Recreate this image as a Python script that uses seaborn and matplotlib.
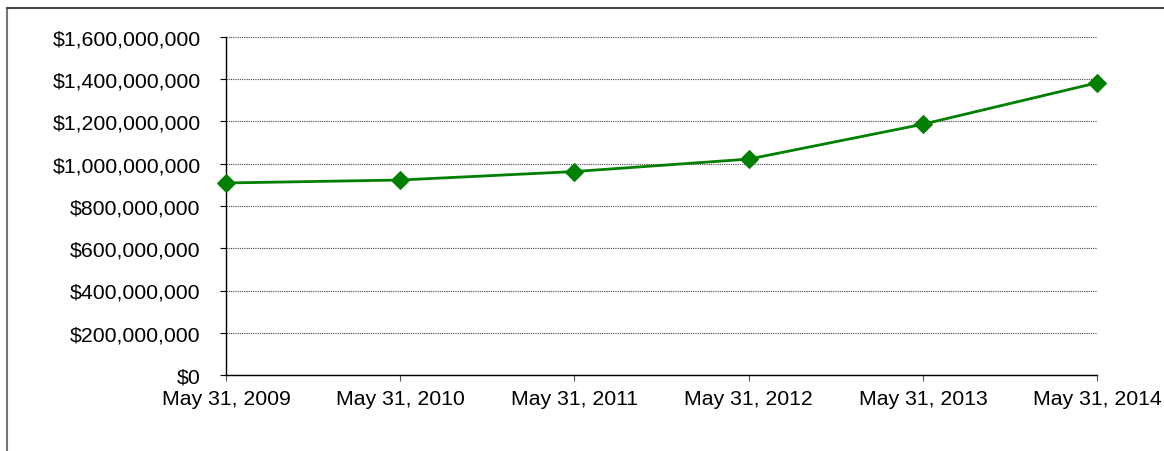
import pandas as pd
import matplotlib
matplotlib.use('Agg')
import matplotlib.pyplot as plt
import matplotlib.dates as mdates
from matplotlib.ticker import FuncFormatter, MultipleLocator
from matplotlib.lines import Line2D
import seaborn as sns

# values
dates = ['2009-05-31', '2010-05-31', '2011-05-31', '2012-05-31', '2013-05-31', '2014-05-31']
amounts = [909000000, 923000000, 963000000, 1022000000, 1187000000, 1383000000]

df = pd.DataFrame({'date': pd.to_datetime(dates), 'amount': amounts})

sns.set_style('white')
plt.rcParams['font.family'] = ['Liberation Sans', 'DejaVu Sans']

fig = plt.figure(figsize=(11.64, 4.52), dpi=100)
ax = fig.add_axes([226 / 1164, 1 - 376 / 452, (1097 - 226) / 1164, (376 - 38) / 452])

sns.lineplot(data=df, x='date', y='amount', ax=ax, color='#008000', linewidth=2.0,
             marker='D', markersize=9, markeredgecolor='#008000', zorder=3, clip_on=False)

ax.set_ylim(0, 1600000000)
ax.yaxis.set_major_locator(MultipleLocator(200000000))
ax.yaxis.set_major_formatter(FuncFormatter(lambda v, p: '${:,.0f}'.format(v)))
ax.set_xlim(df['date'].iloc[0], df['date'].iloc[-1])
ax.set_xticks(df['date'])
ax.xaxis.set_major_formatter(mdates.DateFormatter('%b %d, %Y'))

ax.grid(axis='y', color='#444444', linestyle=(0, (1, 1)), linewidth=0.8)
ax.grid(axis='x', visible=False)
ax.set_axisbelow(True)
for s in ['top', 'right']:
    ax.spines[s].set_visible(False)
for s in ['left', 'bottom']:
    ax.spines[s].set_color('black')
    ax.spines[s].set_linewidth(1.0)

ax.tick_params(axis='y', which='major', left=True, length=4.3, width=0.8, color='black',
               pad=14, labelsize=15.3, labelcolor='black')
ax.tick_params(axis='x', which='major', bottom=True, length=4.3, width=0.8, color='#555555',
               pad=6, labelsize=15.3, labelcolor='black')
ax.set_xlabel('')
ax.set_ylabel('')

# outer chart frame (only the left and top edges fall inside the picture)
fig.add_artist(Line2D([7 / 1164, 7 / 1164], [0, 1 - 9 / 452], color='#777777', linewidth=1.5))
fig.add_artist(Line2D([7 / 1164, 1], [1 - 9 / 452, 1 - 9 / 452], color='#444444', linewidth=1.5))

fig.savefig('out.png', dpi=100)
